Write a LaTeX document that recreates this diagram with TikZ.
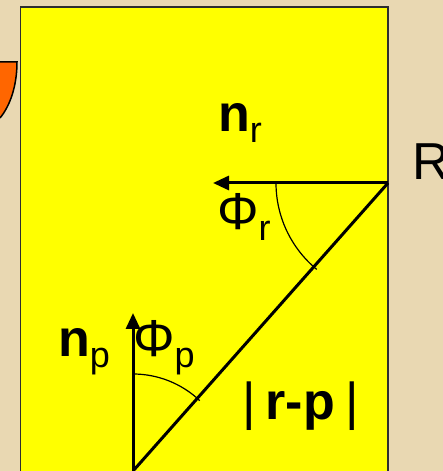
\documentclass[tikz,border=0pt]{standalone}
\usepackage{fontspec}
\setmainfont{Liberation Sans}
\usetikzlibrary{arrows.meta}
\definecolor{vfink}{HTML}{000000}
\definecolor{vfparch}{HTML}{E9D8B2}
\definecolor{vfyellow}{HTML}{FFFF00}
\definecolor{vforange}{HTML}{FF6600}
\definecolor{vfedge}{HTML}{2E2E2E}
\newcommand{\vfsub}[1]{\raisebox{-11pt}{\fontsize{36}{36}\selectfont #1}}
\tikzset{
  vf text/.style={font=\fontsize{52}{52}\selectfont, text=vfink, inner sep=0pt},
  vf panel/.style={draw=vfedge, line width=1.5pt, fill=vfyellow},
  vf blob/.style={fill=vforange, draw=vfink, line width=1.5pt},
  vf arrow/.style={-{Triangle[length=16pt,width=14pt]}, line width=3pt,
    draw=vfink, line cap=butt},
  vf ray/.style={draw=vfink, line width=3pt, line cap=butt},
  vf angle/.style={draw=vfink, line width=1.2pt},
  vf label/.style={vf text, anchor=base west}
}

\begin{document}
\begin{tikzpicture}[vf text, x=1pt, y=1pt]
  \useasboundingbox[fill=vfparch] (0,0) rectangle (443,471);
  \fill[vf blob, draw=none] (0,409) -- (17,409) .. controls (17,385) and (10,365) .. (0,353) -- cycle;
  \draw[vf blob, fill=none] (0,409) -- (17,409) .. controls (17,385) and (10,365) .. (0,353);
  \draw[vf panel] (20.5,-2) rectangle (388,464);
  \coordinate (R) at (388,288);
  \coordinate (P) at (133,0);
  \coordinate (nr tip) at (213,288);
  \coordinate (np tip) at (133,158);
  \draw[vf arrow] (R) -- (nr tip);
  \draw[vf arrow] (P) -- (np tip);
  \draw[vf ray] (R) -- (P);
  \draw[vf angle] (R) ++(180:112) arc[start angle=180, end angle=230.5, radius=112];
  \draw[vf angle] (P) ++(90:97) arc[start angle=90, end angle=46.5, radius=97];
  \node[vf label] (nr) at (218,339) {\textbf{n}\vfsub{r}};
  \node[vf label] (phir) at (217,241) {Φ\vfsub{r}};
  \node[vf label] (np) at (58,114) {\textbf{n}\vfsub{p}};
  \node[vf label] (phip) at (133,114) {Φ\vfsub{p}};
  \node[vf label] (dist) at (242,51) {|\hspace{10pt}\textbf{r-p}\hspace{10pt}|};
  \node[vf label] (Rlabel) at (412,291) {R};
\end{tikzpicture}
\end{document}
